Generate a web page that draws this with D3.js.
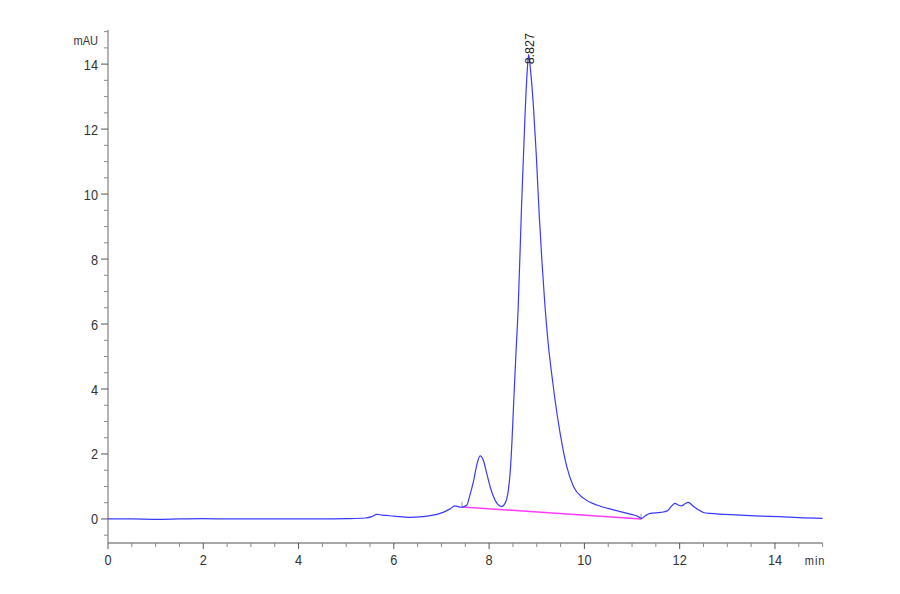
<!DOCTYPE html>
<html><head><meta charset="utf-8">
<script src="https://cdn.jsdelivr.net/npm/d3@7/dist/d3.min.js"></script>
<style>body{margin:0;background:#fff}svg{display:block}</style>
</head><body>
<svg id="c" width="900" height="594"></svg>
<script>
const times = [0,0.5,1.0,1.5,2.0,2.5,3.0,3.5,4.0,4.5,5.0,5.4,5.55,5.64,5.75,6.0,6.34,6.6,6.97,7.1,7.18,7.28,7.42,7.53,7.6,7.67,7.74,7.81,7.88,7.95,8.02,8.09,8.17,8.26,8.34,8.40,8.44,8.48,8.51,8.56,8.61,8.68,8.75,8.80,8.83,8.87,8.93,8.99,9.05,9.11,9.17,9.24,9.31,9.38,9.49,9.63,9.77,9.98,10.26,10.61,10.96,11.12,11.20,11.28,11.38,11.6,11.73,11.82,11.90,11.97,12.04,12.11,12.18,12.28,12.39,12.5,12.64,13.27,13.7,14.1,14.5,15.0];
const signal = [0.0,0.0,-0.01,0.0,0.01,0.0,0.0,0.0,0.0,0.0,0.01,0.03,0.08,0.14,0.12,0.09,0.05,0.07,0.17,0.25,0.31,0.40,0.36,0.42,0.75,1.15,1.65,1.94,1.8,1.4,1.0,0.69,0.47,0.38,0.5,0.85,1.4,2.4,3.4,5.0,6.5,9.6,12.3,13.8,14.3,13.8,12.7,11.2,9.4,7.9,6.6,5.4,4.5,3.7,2.64,1.61,1.0,0.64,0.43,0.28,0.15,0.08,0.02,0.1,0.17,0.2,0.24,0.38,0.48,0.43,0.40,0.47,0.51,0.40,0.28,0.2,0.17,0.12,0.09,0.07,0.04,0.02];
const baselineT = [7.43, 11.19];
const baselineV = [0.37, 0.0];
const peakLabel = "8.827";
const peakTime = 8.827;
const peakValue = 14.3;
const xTicks = [0,2,4,6,8,10,12,14];
const yTicks = [0,2,4,6,8,10,12,14];

const svg = d3.select("#c");
const x = d3.scaleLinear().domain([0,15]).range([108,822.6]);
const y = d3.scaleLinear().domain([-0.74,15.05]).range([543,30]);
const font = "'Liberation Sans',Arial,sans-serif";
const axisCol = "#8a8a8a", textCol = "#333";

svg.append("line").attr("x1",108).attr("x2",108).attr("y1",y.range()[1]).attr("y2",543).attr("stroke",axisCol).attr("stroke-width",1.3);
svg.append("line").attr("x1",108).attr("x2",x(15)).attr("y1",543).attr("y2",543).attr("stroke",axisCol).attr("stroke-width",1.3);

const xMinor = d3.range(0,15.01,0.5);
svg.selectAll(".xt").data(xMinor).enter().append("line")
  .attr("x1",d=>x(d)).attr("x2",d=>x(d)).attr("y1",543)
  .attr("y2",d=> Math.abs(d%2)<1e-9 ? 549 : 547)
  .attr("stroke",d=> Math.abs(d%2)<1e-9 ? "#555" : axisCol).attr("stroke-width",1);
svg.selectAll(".xl").data(xTicks).enter().append("text")
  .attr("transform",d=>`translate(${x(d)},565) scale(0.85,1)`).attr("text-anchor","middle")
  .attr("font-family",font).attr("font-size",15).attr("fill",textCol).text(d=>d);
svg.append("text").attr("transform","translate(815,565) scale(0.85,1)").attr("text-anchor","middle")
  .attr("font-family",font).attr("font-size",13).attr("fill",textCol).attr("letter-spacing",1).text("min");

const yMinor = d3.range(-0.5,15.01,0.5);
svg.selectAll(".yt").data(yMinor).enter().append("line")
  .attr("y1",d=>y(d)).attr("y2",d=>y(d)).attr("x1",108)
  .attr("x2",d=> Math.abs(d%2)<1e-9 ? 101 : 104)
  .attr("stroke",d=> Math.abs(d%2)<1e-9 ? "#555" : axisCol).attr("stroke-width",1);
svg.selectAll(".yl").data(yTicks).enter().append("text")
  .attr("transform",d=>`translate(98,${y(d)+5.5}) scale(0.85,1)`).attr("text-anchor","end")
  .attr("font-family",font).attr("font-size",15).attr("fill",textCol).text(d=>d);
svg.append("text").attr("transform","translate(98,45) scale(0.85,1)").attr("text-anchor","end")
  .attr("font-family",font).attr("font-size",13).attr("fill",textCol).text("mAU");

svg.append("line").attr("x1",x(baselineT[0])).attr("y1",y(baselineV[0]))
  .attr("x2",x(baselineT[1])).attr("y2",y(baselineV[1]))
  .attr("stroke","#ff3cff").attr("stroke-width",1.5);
[[baselineT[0],baselineV[0]],[baselineT[1],baselineV[1]]].forEach(p=>{
  svg.append("line").attr("x1",x(p[0])).attr("x2",x(p[0])).attr("y1",y(p[1])-5).attr("y2",y(p[1])+1)
    .attr("stroke","#999").attr("stroke-width",1);
});

const data = times.map((t,i)=>[t,signal[i]]);
const line = d3.line().x(d=>x(d[0])).y(d=>y(d[1])).curve(d3.curveMonotoneX);
svg.append("path").attr("d",line(data)).attr("fill","none").attr("stroke","#3a3aff").attr("stroke-width",1.2);

svg.append("text").attr("transform",`translate(${x(peakTime)+5},${y(peakValue)+10}) rotate(-90)`)
  .attr("font-family",font).attr("font-size",12.5).attr("fill","#222").text(peakLabel);
</script>
</body></html>
